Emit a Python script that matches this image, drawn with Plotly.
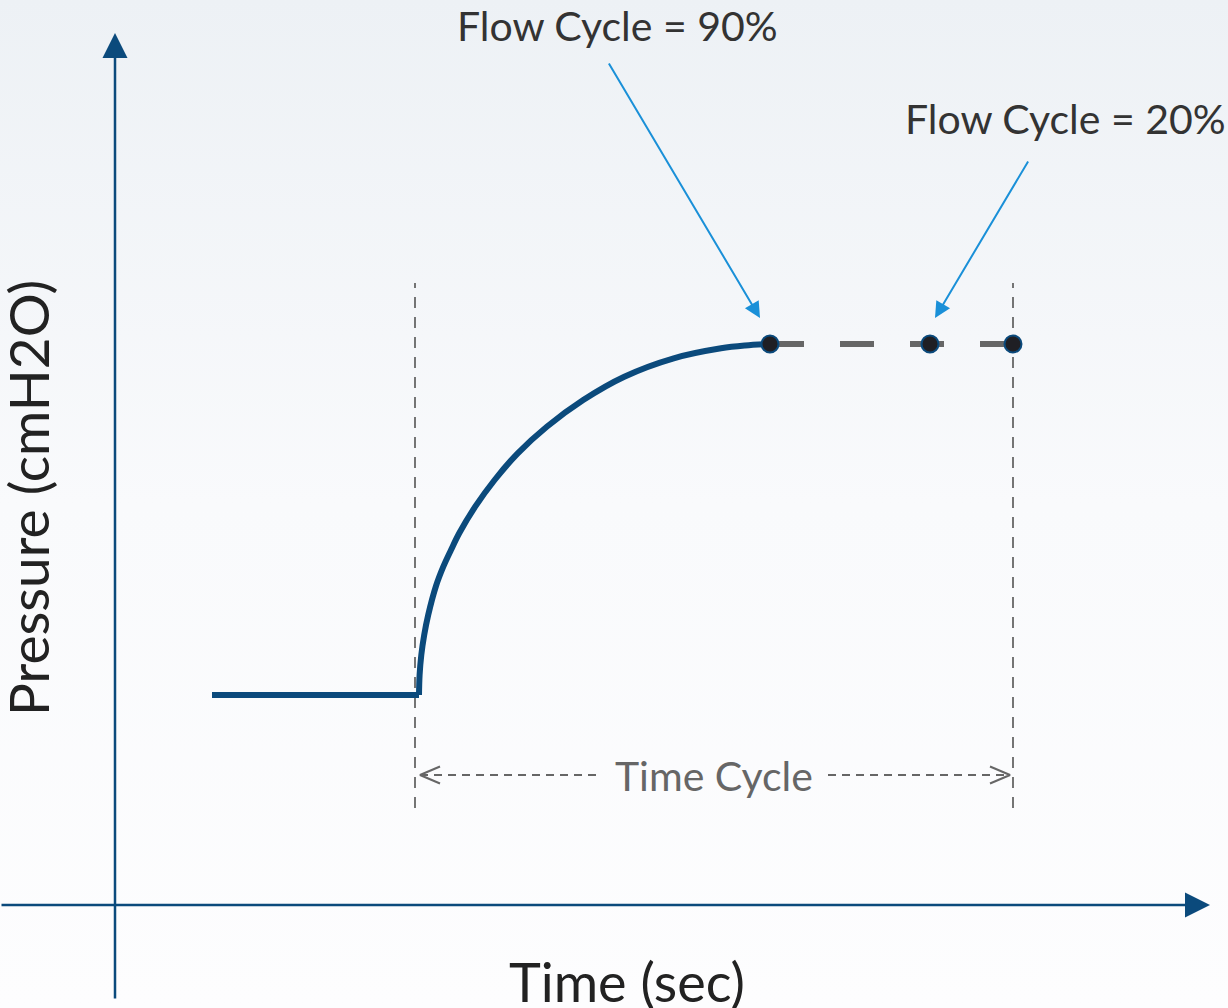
import plotly.graph_objects as go

# ---------------- data (time in s, pressure in cmH2O, arbitrary diagram units) ----------------
baseline_time = [0.97, 3.04]
baseline_pressure = [2.10, 2.10]

rise_time = [3.04, 3.046, 3.063, 3.092, 3.132, 3.21, 3.283, 3.36, 3.442, 3.602, 3.796,
             4.027, 4.318, 4.682, 5.093, 5.587, 6.06, 6.30, 6.55]
rise_pressure = [2.10, 2.30, 2.50, 2.70, 2.90, 3.19, 3.383, 3.55, 3.717, 3.983, 4.25,
                 4.517, 4.783, 5.05, 5.283, 5.467, 5.567, 5.595, 5.61]

plateau_time = [6.55, 8.98]
plateau_pressure = [5.61, 5.61]

cycle_point_time = [6.55, 8.15, 8.98]          # flow cycle 90%, flow cycle 20%, time cycle end
cycle_point_pressure = [5.61, 5.61, 5.61]

guide_time = [3.00, 8.98]                     # vertical guides (inspiration start, time cycle)
guide_pressure_span = [0.97, 6.22]

time_cycle_level = 1.30
time_cycle_span = [3.05, 8.95]

flow_labels = ["Flow Cycle = 90%", "Flow Cycle = 20%"]
time_cycle_label = "Time Cycle"
x_title = "Time (sec)"
y_title = "Pressure (cmH2O)"

# ---------------- layout helpers ----------------
W, H = 1228, 1008
XR = [-1.15, 11.13]
YR = [-1.03, 9.05]

AXIS_BLUE = "#0b4a7c"
ARROW_BLUE = "#1a90d8"
GRAY = "#666666"
FONT = "Lato"

fig = go.Figure()

# background gradient
fig.add_trace(go.Scatter(
    x=[XR[0], XR[1], XR[1], XR[0], XR[0]],
    y=[YR[0], YR[0], YR[1], YR[1], YR[0]],
    mode="lines", line=dict(width=0), fill="toself",
    fillgradient=dict(type="vertical", colorscale=[[0, "#fdfdfe"], [0.5, "#f9fafc"], [1, "#edf1f5"]]),
    hoverinfo="skip"))

# vertical dashed guides
for t in guide_time:
    fig.add_trace(go.Scatter(x=[t, t], y=guide_pressure_span, mode="lines",
                             line=dict(color=GRAY, width=1.8, dash="11px,9px"), hoverinfo="skip"))

# time cycle dimension line (split around the label)
gap_left, gap_right = 4.85, 7.13
for seg in ([time_cycle_span[0], gap_left], [gap_right, time_cycle_span[1]]):
    fig.add_trace(go.Scatter(x=seg, y=[time_cycle_level] * 2, mode="lines",
                             line=dict(color=GRAY, width=2, dash="8px,6px"), hoverinfo="skip"))
# open chevron heads
hx, hy = 0.20, 0.085
fig.add_trace(go.Scatter(
    x=[time_cycle_span[0] + hx, time_cycle_span[0], time_cycle_span[0] + hx],
    y=[time_cycle_level + hy, time_cycle_level, time_cycle_level - hy],
    mode="lines", line=dict(color=GRAY, width=2), hoverinfo="skip"))
fig.add_trace(go.Scatter(
    x=[time_cycle_span[1] - hx, time_cycle_span[1], time_cycle_span[1] - hx],
    y=[time_cycle_level + hy, time_cycle_level, time_cycle_level - hy],
    mode="lines", line=dict(color=GRAY, width=2), hoverinfo="skip"))

# plateau (dashed gray)
fig.add_trace(go.Scatter(x=plateau_time, y=plateau_pressure, mode="lines",
                         line=dict(color=GRAY, width=6, dash="34px,36px"), hoverinfo="skip"))

# pressure waveform
fig.add_trace(go.Scatter(x=baseline_time, y=baseline_pressure, mode="lines",
                         line=dict(color=AXIS_BLUE, width=6), hoverinfo="skip"))
fig.add_trace(go.Scatter(x=rise_time, y=rise_pressure, mode="lines",
                         line=dict(color=AXIS_BLUE, width=6, shape="spline", smoothing=1),
                         hoverinfo="skip"))

# cycle points
fig.add_trace(go.Scatter(x=cycle_point_time, y=cycle_point_pressure, mode="markers",
                         marker=dict(size=17, color="#1f1f24", line=dict(color=AXIS_BLUE, width=2)),
                         hoverinfo="skip"))

annotations = []
# axes with arrowheads
annotations.append(dict(x=0, y=8.72, ax=0, ay=-0.95, xref="x", yref="y", axref="x", ayref="y",
                        text="", showarrow=True, arrowhead=2, arrowsize=2.0, arrowwidth=2.5,
                        arrowcolor=AXIS_BLUE))
annotations.append(dict(x=10.95, y=0, ax=XR[0], ay=0, xref="x", yref="y", axref="x", ayref="y",
                        text="", showarrow=True, arrowhead=2, arrowsize=2.0, arrowwidth=2.5,
                        arrowcolor=AXIS_BLUE))
# callout arrows
annotations.append(dict(x=6.45, y=5.87, ax=4.93, ay=8.43, xref="x", yref="y", axref="x", ayref="y",
                        text="", showarrow=True, arrowhead=2, arrowsize=1.6, arrowwidth=2,
                        arrowcolor=ARROW_BLUE))
annotations.append(dict(x=8.20, y=5.87, ax=9.14, ay=7.45, xref="x", yref="y", axref="x", ayref="y",
                        text="", showarrow=True, arrowhead=2, arrowsize=1.6, arrowwidth=2,
                        arrowcolor=ARROW_BLUE))
# texts
annotations.append(dict(x=617 / W, y=1 - 25 / H, xref="paper", yref="paper", text=flow_labels[0],
                        showarrow=False, font=dict(family=FONT, size=41, color="#333333"),
                        xanchor="center", yanchor="middle"))
annotations.append(dict(x=1.0, y=1 - 118 / H, xref="paper", yref="paper", text=flow_labels[1],
                        showarrow=False, font=dict(family=FONT, size=41, color="#333333"),
                        xanchor="right", yanchor="middle"))
annotations.append(dict(x=(gap_left + gap_right) / 2, y=time_cycle_level, xref="x", yref="y",
                        text=time_cycle_label, showarrow=False,
                        font=dict(family=FONT, size=41, color=GRAY),
                        xanchor="center", yanchor="middle"))
annotations.append(dict(x=627 / W, y=1 - 981 / H, xref="paper", yref="paper", text=x_title,
                        showarrow=False, font=dict(family=FONT, size=54, color="#222222"),
                        xanchor="center", yanchor="middle"))
annotations.append(dict(x=28 / W, y=1 - 498 / H, xref="paper", yref="paper", text=y_title,
                        showarrow=False, textangle=-90, font=dict(family=FONT, size=55, color="#222222"),
                        xanchor="center", yanchor="middle"))

fig.update_layout(
    width=W, height=H,
    margin=dict(l=0, r=0, t=0, b=0),
    paper_bgcolor="#f7f9fb", plot_bgcolor="rgba(0,0,0,0)",
    showlegend=False, hovermode=False,
    xaxis=dict(range=XR, visible=False, fixedrange=True),
    yaxis=dict(range=YR, visible=False, fixedrange=True),
    annotations=annotations,
)

fig.write_html("out.html", config={"displayModeBar": False},
               post_script="document.body.style.margin='0';document.body.style.overflow='hidden';")
